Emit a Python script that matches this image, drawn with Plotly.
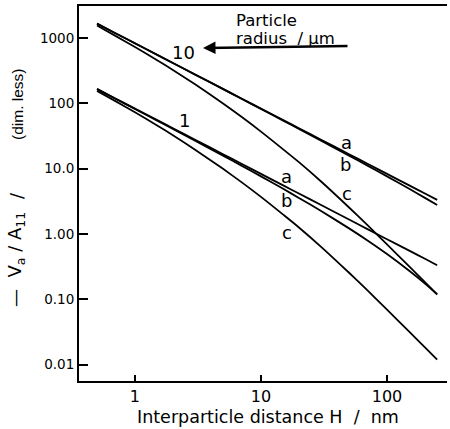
import plotly.graph_objects as go

# Interparticle distance H / nm
H = [0.5, 0.7, 1, 1.5, 2, 3, 5, 7, 10, 15, 20, 30, 50, 70, 100, 150, 200, 250]

# Particle radius 10 um
r10_a = [1667, 1190, 833, 556, 417, 278, 167, 119, 83.3, 55.6, 41.7, 27.8, 16.7, 11.9, 8.33, 5.56, 4.17, 3.33]
r10_b = [1665, 1189, 832, 554, 415, 276.5, 165.5, 117.9, 82.2, 54.5, 40.7, 26.9, 15.85, 11.14, 7.63, 4.92, 3.58, 2.78]
r10_c = [1558, 1084, 731, 459, 326, 196, 99.5, 62.3, 37.0, 19.8, 12.6, 6.37, 2.55, 1.37, 0.694, 0.320, 0.183, 0.119]

# Particle radius 1 um
r1_a = [167, 119, 83.3, 55.6, 41.7, 27.8, 16.7, 11.9, 8.33, 5.56, 4.17, 2.78, 1.67, 1.19, 0.833, 0.556, 0.417, 0.333]
r1_b = [165.5, 117.9, 82.2, 54.5, 40.7, 26.9, 15.85, 11.14, 7.63, 4.92, 3.57, 2.25, 1.22, 0.796, 0.493, 0.273, 0.174, 0.119]
r1_c = [155.8, 108.4, 73.1, 45.9, 32.6, 19.6, 9.95, 6.23, 3.70, 1.98, 1.26, 0.637, 0.255, 0.137, 0.0694, 0.032, 0.0183, 0.0119]

x_tickvals = [1, 10, 100]
x_ticktext = ["1", "10", "100"]
y_tickvals = [0.01, 0.1, 1, 10, 100, 1000]
y_ticktext = ["0.01", "0.10", "1.00", "10.0", "100", "1000"]

FONT = "DejaVu Sans"

fig = go.Figure()
for ys in [r10_a, r10_b, r10_c, r1_a, r1_b, r1_c]:
    fig.add_trace(go.Scatter(x=H, y=ys, mode="lines",
                             line=dict(color="black", width=1.8, shape="spline", smoothing=0.6),
                             showlegend=False, hoverinfo="skip"))

# plot area in pixels
L, R, T, B = 79, 447, 6, 381
W, HH = R - L, B - T
def px(x):
    return (x - L) / W
def py(y):
    return (B - y) / HH

ann = []
def txt(text, x, y, size=18, xanchor="center", angle=0, family=FONT):
    ann.append(dict(text=text, x=px(x), y=py(y), xref="paper", yref="paper",
                    xanchor=xanchor, yanchor="middle", showarrow=False,
                    textangle=angle, font=dict(family=family, size=size, color="black")))

txt("10", 183, 53)
txt("1", 184, 121)
txt("a", 346, 142); txt("b", 345, 164); txt("c", 347, 193)
txt("a", 286, 177); txt("b", 286, 200); txt("c", 287, 232)
txt("Particle", 234, 20, size=16.5, xanchor="left")
txt("radius&nbsp;&nbsp;/ µm", 234, 38, size=16.5, xanchor="left")
txt("Interparticle distance H&nbsp;&nbsp;/&nbsp;&nbsp;nm", 268, 417, size=17.5)
txt("—&nbsp;&nbsp;V<sub>a</sub>&nbsp;/&nbsp;A<sub>11</sub>", 16, 259, size=18, angle=-90)
txt("/", 16, 195, size=18, angle=-90)
txt("(dim. less)", 17, 105, size=15.5, angle=-90, family="Liberation Sans")

# arrow (also underlines "radius / um")
ann.append(dict(x=px(203), y=py(48), xref="paper", yref="paper", text="",
                showarrow=True, ax=146, ay=-2, axref="pixel", ayref="pixel",
                arrowhead=2, arrowsize=1.0, arrowwidth=2.5, arrowcolor="black"))

fig.update_layout(
    width=450, height=429,
    margin=dict(l=L, r=450 - R, t=T, b=429 - B),
    paper_bgcolor="white", plot_bgcolor="white",
    annotations=ann,
    xaxis=dict(type="log", range=[-0.444, 2.476], showgrid=False, zeroline=False,
               showline=True, linecolor="black", linewidth=2, mirror=True,
               ticks="inside", ticklen=6, tickwidth=1.5, tickcolor="black",
               tickvals=x_tickvals, ticktext=x_ticktext,
               tickfont=dict(family=FONT, size=16, color="black")),
    yaxis=dict(type="log", range=[-2.251, 3.492], showgrid=False, zeroline=False,
               showline=True, linecolor="black", linewidth=2, mirror=False,
               ticks="inside", ticklen=9, tickwidth=1.5, tickcolor="black",
               tickvals=y_tickvals, ticktext=y_ticktext,
               tickfont=dict(family=FONT, size=13.5, color="black")),
)

fig.write_html("out.html")
